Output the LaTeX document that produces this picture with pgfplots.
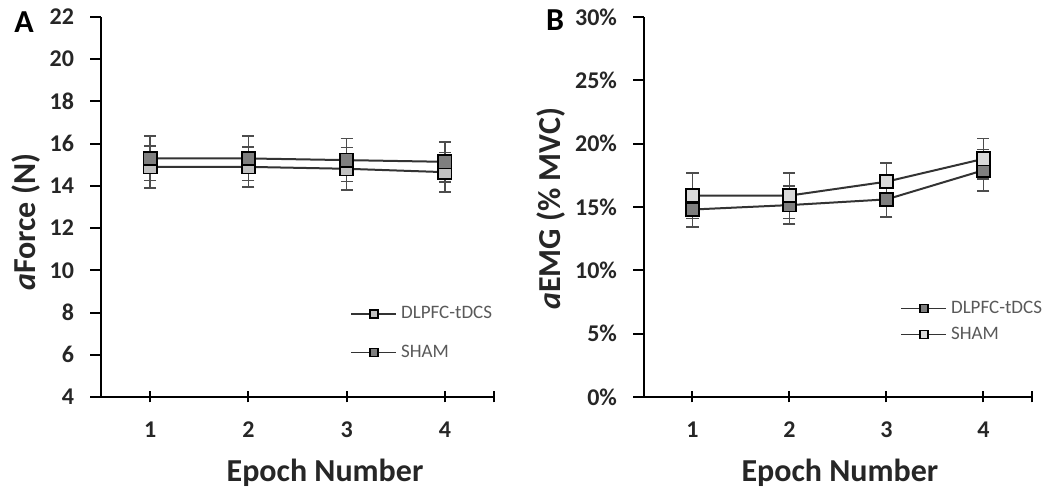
\documentclass[border=0pt]{standalone}
\usepackage{fontspec}
\setmainfont{Carlito}
\usepackage{pgfplots}
\usepackage{pgfplotstable}
\pgfplotsset{compat=1.18}
\definecolor{darkfill}{HTML}{7F7F7F}
\definecolor{lightA}{HTML}{C0C0C0}
\definecolor{lightB}{HTML}{D9D9D9}
\definecolor{linec}{HTML}{333333}
\definecolor{errc}{HTML}{4D4D4D}
\definecolor{legtxt}{HTML}{595959}
\definecolor{txt}{HTML}{262626}

\pgfplotstableread{
x y e
1 14.90 1.00
2 14.90 0.95
3 14.81 1.00
4 14.65 0.93
}\AdlpfcA
\pgfplotstableread{
x y e
1 15.30 1.05
2 15.30 1.05
3 15.22 1.02
4 15.14 0.95
}\AshamA
\pgfplotstableread{
x y e
1 14.80 1.40
2 15.15 1.50
3 15.60 1.40
4 17.90 1.65
}\BdlpfcB
\pgfplotstableread{
x y e
1 15.90 1.80
2 15.90 1.80
3 17.00 1.45
4 18.80 1.60
}\BshamB

\pgfplotsset{
 panel/.style={
  scale only axis, height=190pt,
  axis x line*=bottom, axis y line*=left,
  axis line style={-, line width=1.1pt, black},
  xmin=0.5, xmax=4.5, xtick={1,2,3,4},
  extra x ticks={4.5}, extra x tick labels={},
  tick align=outside, major tick length=5.5pt,
  tick style={line width=1pt, black},
  major x tick style={yshift=2.75pt},
  /pgf/number format/assume math mode=true,
  tick label style={font=\bfseries\fontsize{12}{12}\selectfont, text=txt},
  xticklabel style={yshift=-3.5pt},
  yticklabel style={xshift=-4.5pt},
  label style={font=\bfseries\fontsize{16}{16}\selectfont, text=txt},
  legend style={draw=none, fill=none, inner sep=0pt, anchor=north west,
     font=\fontsize{9.5}{10}\selectfont, nodes={inner sep=2pt, text=legtxt}},
  legend cell align=left,
  legend image code/.code={\draw[mark repeat=2, mark phase=2, ##1, mark size=2pt, line width=0.8pt] plot coordinates {(0pt,0pt) (11.25pt,0pt) (22.5pt,0pt)};},
 },
 ser/.style={color=linec, line width=1pt, mark=square*, mark size=3.3pt,
   mark options={draw=black, line width=0.8pt, fill=#1, solid},
   /pgfplots/error bars/y dir=both, /pgfplots/error bars/y explicit,
   /pgfplots/error bars/error bar style={errc, line width=0.8pt},
   /pgfplots/error bars/error mark options={rotate=90, mark size=3pt, errc, line width=0.8pt}},
}

\begin{document}
\begin{tikzpicture}
\path[use as bounding box] (0,0) rectangle (523pt,245pt);

\begin{axis}[panel, at={(50.5pt,46.5pt)}, anchor=south west, width=196.5pt,
  ymin=4, ymax=22, ytick={4,6,...,22},
  xlabel={Epoch Number}, ylabel={\textit{a}Force (N)},
  xlabel style={at={(axis description cs:0.57,0)}, anchor=base, yshift=-42.5pt},
  ylabel style={at={(axis description cs:-0.19,0.46)}, anchor=center},
  legend style={at={(axis description cs:0.634,0.25)}, row sep=7.5pt}]
\addplot[ser=lightA] table[x=x, y=y, y error=e] {\AdlpfcA};
\addlegendentry{DLPFC-tDCS}
\addplot[ser=darkfill] table[x=x, y=y, y error=e] {\AshamA};
\addlegendentry{SHAM}
\end{axis}

\begin{axis}[panel, at={(322pt,46.5pt)}, anchor=south west, width=194pt,
  ymin=0, ymax=30, ytick={0,5,...,30},
  yticklabels={0\%,5\%,10\%,15\%,20\%,25\%,30\%},
  xlabel={Epoch Number}, ylabel={\textit{a}EMG (\% MVC)},
  xlabel style={at={(axis description cs:0.505,0)}, anchor=base, yshift=-42.5pt},
  ylabel style={at={(axis description cs:-0.24,0.495)}, anchor=center},
  legend style={at={(axis description cs:0.66,0.265)}, row sep=1.5pt}]
\addplot[ser=darkfill] table[x=x, y=y, y error=e] {\BdlpfcB};
\addlegendentry{DLPFC-tDCS}
\addplot[ser=lightB] table[x=x, y=y, y error=e] {\BshamB};
\addlegendentry{SHAM}
\end{axis}

\node[font=\bfseries\fontsize{16}{16}\selectfont, text=black] at (12pt,234pt) {A};
\node[font=\bfseries\fontsize{16}{16}\selectfont, text=black] at (277.5pt,234.7pt) {B};
\end{tikzpicture}
\end{document}
